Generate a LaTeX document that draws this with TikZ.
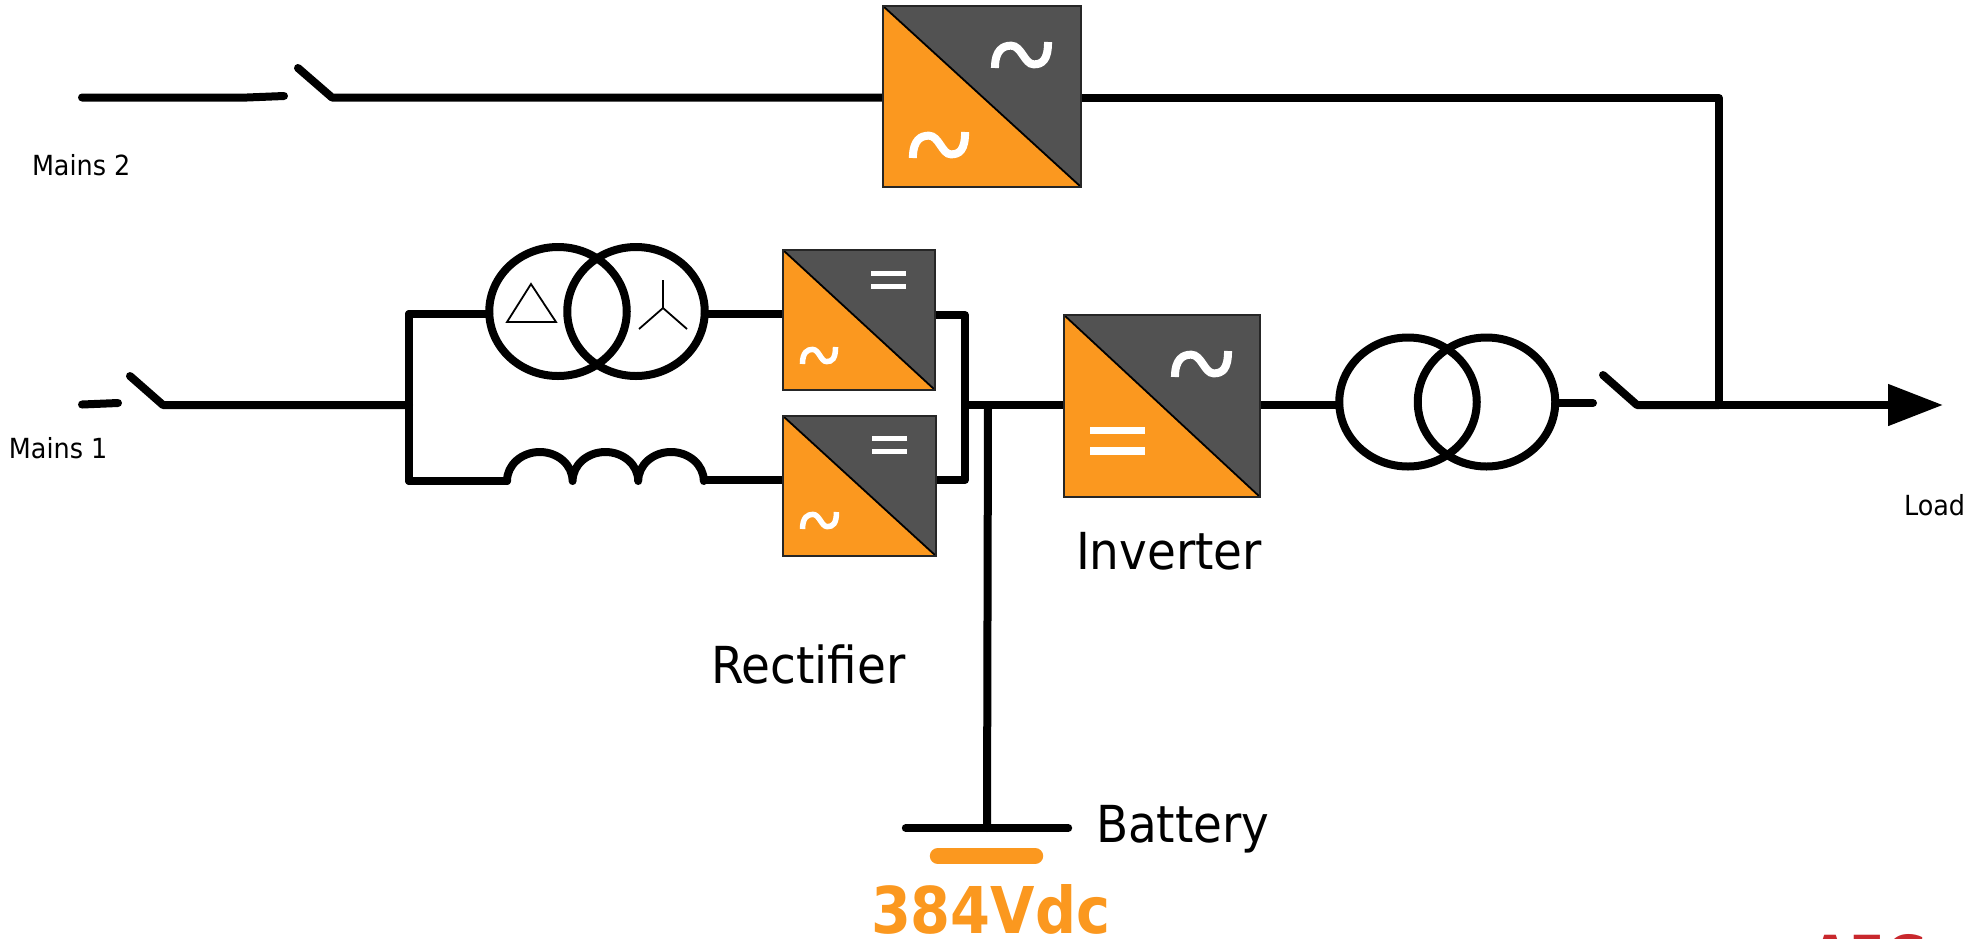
\documentclass[tikz,border=0pt]{standalone}
\usepackage{fontspec}
\usetikzlibrary{shapes.geometric,arrows.meta,calc}
\newfontfamily\tah[FakeStretch=0.92]{DejaVu Sans}
\newfontfamily\tahb[FakeStretch=0.89]{DejaVu Sans}
\definecolor{upsorange}{HTML}{FB981F}
\definecolor{upsgray}{HTML}{525252}
\definecolor{upsred}{HTML}{C8282D}
\tikzset{
  wire/.style={line width=8pt,line cap=round,line join=round,draw=black},
  thinsym/.style={line width=1.8pt,draw=black,line join=miter},
  xfmr/.style={ellipse,draw=black,line width=8pt,inner sep=0pt,outer sep=0pt,minimum width=137.5pt,minimum height=129pt},
  conv/.style={rectangle,draw=black!85,line width=1.8pt,inner sep=0pt,outer sep=0pt,fill=upsorange,
    path picture={
      \fill[upsgray] (path picture bounding box.north west)--(path picture bounding box.north east)--(path picture bounding box.south east)--cycle;
      \draw[black,line width=1.8pt] (path picture bounding box.north west)--(path picture bounding box.south east);
    }},
  lbl/.style={anchor=base west,inner sep=0pt,outer sep=0pt,text=black,font=\tah},
}
\newcommand{\acsign}[5]{%
  \begin{scope}[shift={(#1,#2)},x=#3pt,y=-#4pt]
    \draw[white,line width=#5pt,line cap=butt]
      (.065,1) .. controls (.065,.3) and (.2,.14) .. (.33,.14)
      .. controls (.5,.14) and (.55,.86) .. (.7,.86)
      .. controls (.84,.86) and (.935,.7) .. (.935,0);
  \end{scope}}
\newcommand{\dcsign}[6]{%
  \fill[white] (#1,#3) rectangle (#2,#4);
  \fill[white] (#1,#5) rectangle (#2,#6);}
\begin{document}
\begin{tikzpicture}[x=1pt,y=-1pt]
\useasboundingbox (0,0) rectangle (1982,938);
\clip (0,0) rectangle (1982,938);

% free ends and switch points
\coordinate (m2start) at (82,97.5);
\coordinate (m2stub) at (284,96);
\coordinate (sw2top) at (298,68);
\coordinate (sw2hinge) at (332,97.5);
\coordinate (m1start) at (82,404.5);
\coordinate (m1stub) at (118,403);
\coordinate (sw1top) at (130,376);
\coordinate (sw1hinge) at (163,405);
\coordinate (busleft) at (409,405);
\coordinate (busup) at (409,314);
\coordinate (busdown) at (409,481);
\coordinate (indl) at (507,481);
\coordinate (indr) at (704,480);
\coordinate (dcup) at (965,315);
\coordinate (dcdown) at (965,480);
\coordinate (dcmid) at (965,405);
\coordinate (battjoint) at (988,405);
\coordinate (statstub) at (1593,403);
\coordinate (sw3top) at (1603,375);
\coordinate (sw3hinge) at (1637,405);
\coordinate (outjoint) at (1719,405);
\coordinate (byjoint) at (1719,98);
\coordinate (loadend) at (1943,405);

% components
\node[conv,minimum width=198pt,minimum height=181pt] (bypass) at (982,96.5) {};
\node[conv,minimum width=152pt,minimum height=140pt] (rect1) at (859,320) {};
\node[conv,minimum width=153pt,minimum height=140pt] (rect2) at (859.5,486) {};
\node[conv,minimum width=196pt,minimum height=182pt] (inv) at (1162,406) {};
\node[inner sep=0pt,minimum width=162pt,minimum height=0pt] (battplate) at (987,828) {};
\node[inner sep=0pt,minimum width=113pt,minimum height=0pt] (battbar) at (986.5,856) {};

% wires
\draw[wire] (m2start) -- (247,97.5) -- (m2stub);
\draw[wire] (sw2top) -- (sw2hinge) -- (bypass.west |- sw2hinge);
\draw[wire] (bypass.east |- byjoint) -- (byjoint) -- (outjoint);
\draw[wire] (m1start) -- (m1stub);
\draw[wire] (sw1top) -- (sw1hinge) -- (busleft);
\draw[wire] (busup) -- (busdown);
\draw[wire] (busdown) -- (indl);
\draw[wire] (indl) arc[start angle=180,end angle=360,x radius=32.8,y radius=29]
  arc[start angle=180,end angle=360,x radius=32.8,y radius=29]
  arc[start angle=180,end angle=360,x radius=32.8,y radius=29];
\draw[wire] (indr) -- (rect2.west |- indr);
\draw[wire] (rect1.east |- dcup) -- (dcup) -- (dcdown) -- (rect2.east |- dcdown);
\draw[wire] (dcmid) -- (inv.west |- dcmid);
\draw[wire] (battjoint) -- (battplate.center);
\draw[wire] (battplate.west) -- (battplate.east);
\draw[line width=16pt,line cap=round,draw=upsorange] ($(battbar.west)+(8,0)$) -- ($(battbar.east)+(-8,0)$);
\draw[wire] (sw3top) -- (sw3hinge) -- (outjoint);
\draw[wire,line cap=butt,-{Triangle[length=55pt,width=40pt]}] (outjoint) -- (loadend);

% redraw the boxes over the wire ends
\node[conv,minimum width=198pt,minimum height=181pt] at (bypass) {};
\node[conv,minimum width=153pt,minimum height=140pt] at (rect2) {};

% transformers
\node[xfmr] (t1a) at (558,311.5) {};
\node[xfmr] (t1b) at (636,311.5) {};
\node[xfmr] (t2a) at (1408,402) {};
\node[xfmr] (t2b) at (1486.5,402) {};
\draw[wire] (busup) -- (t1a.west |- busup);
\draw[wire] (t1b.east |- 0,314) -- (rect1.west |- 0,314);
\draw[wire] (inv.east |- 0,405) -- (t2a.west |- 0,405);
\draw[wire] (t2b.east |- statstub) -- (statstub);
\node[conv,minimum width=152pt,minimum height=140pt] at (rect1) {};
\node[conv,minimum width=196pt,minimum height=182pt] at (inv) {};

% delta and wye symbols
\draw[thinsym] (531,284) -- (507,322) -- (556,322) -- cycle;
\draw[thinsym] (663,280) -- (663,308) -- (639,329);
\draw[thinsym] (663,308) -- (687,329);

% AC / DC signs
\acsign{991}{42}{61}{26}{8}
\acsign{909}{132}{60}{26}{8}
\dcsign{871}{906}{271}{276}{284}{289}
\acsign{800}{347}{38}{17}{5.5}
\dcsign{871.5}{906.5}{436}{441}{449}{454}
\acsign{800}{512}{39}{17}{5.5}
\acsign{1171}{351}{61}{26}{8}
\dcsign{1090}{1145}{427}{434}{447}{455}

% labels
\node[lbl,font=\tah\fontsize{27.7}{30}\selectfont] (mains2) at (32,175) {Mains 2};
\node[lbl,font=\tah\fontsize{27.7}{30}\selectfont] (mains1) at (9,458) {Mains 1};
\node[lbl,font=\tah\fontsize{27.7}{30}\selectfont] (load) at (1904,515) {Load};
\node[lbl,font=\tah\fontsize{51}{56}\selectfont] (invlbl) at (1076,569.5) {Inverter};
\node[lbl,font=\tah\fontsize{51}{56}\selectfont] (reclbl) at (711,683) {Rectifier};
\node[lbl,font=\tah\fontsize{51}{56}\selectfont] (batlbl) at (1096,842) {Battery};
\node[lbl,text=upsorange,font=\tahb\bfseries\fontsize{64.5}{70}\selectfont] (vdc) at (871,933) {384Vdc};
\node[lbl,text=upsred,font=\tahb\bfseries\fontsize{58}{60}\selectfont] (aeg) at (1810,977) {AEG};
\end{tikzpicture}
\end{document}
